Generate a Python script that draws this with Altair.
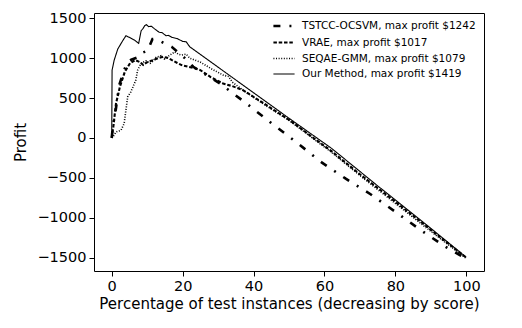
import altair as alt
import pandas as pd

series_names = [
    "TSTCC-OCSVM, max profit $1242",
    "VRAE, max profit $1017",
    "SEQAE-GMM, max profit $1079",
    "Our Method, max profit $1419",
]

tstcc_x = [0, 0.3, 1.2, 2.1, 3.5, 4.5, 5.5, 7.3, 8.2, 10.1, 11.5, 12.3, 13.0, 16.9, 20.2, 23.0, 30.5, 38, 44.6, 52, 59, 66, 73, 80, 87, 94, 100]
tstcc_y = [0, 138, 372, 662, 850, 955, 980, 1010, 1060, 1093, 1240, 1242, 1227, 1143, 1018, 892, 683, 432, 201, -50, -300, -510, -705, -925, -1150, -1360, -1515]

vrae_x = [0, 0.45, 1.2, 2.3, 3.7, 5.2, 6.6, 8.0, 8.9, 10.0, 11.7, 13.0, 14.5, 16.0, 17.0, 18.5, 19.7, 21.6, 23.0, 25.0, 28.0, 31.4, 34.0, 37.0, 43.0, 50.2, 56.0, 62.0, 70.0, 80.0, 90.0, 100.0]
vrae_y = [0, 140, 430, 640, 830, 940, 975, 950, 915, 950, 975, 1000, 1017, 1000, 975, 940, 913, 892, 880, 850, 760, 683, 650, 600, 430, 221, 30, -165, -455, -800, -1150, -1500]

seqae_x = [0, 0.65, 1.2, 2.6, 3.5, 4.0, 4.5, 5.4, 6.8, 7.3, 8.3, 9.7, 10.8, 11.5, 12.5, 13.9, 14.8, 15.5, 16.4, 17.8, 18.8, 19.7, 21.0, 22.0, 25, 28, 31.4, 33, 34, 37, 43, 50.2, 56, 62, 70, 80, 90, 100]
seqae_y = [0, 34, 75, 97, 180, 348, 515, 578, 725, 850, 935, 967, 935, 960, 1010, 1030, 990, 1010, 1039, 1079, 1050, 1039, 1050, 1000, 950, 870, 788, 770, 700, 600, 420, 215, 20, -180, -470, -820, -1170, -1510]

ours_x = [0, 0.1, 0.7, 1.7, 3.1, 4.0, 5.2, 6.4, 7.6, 8.3, 8.8, 9.3, 9.8, 10.4, 11.2, 12.0, 13.4, 14.2, 15.3, 16.0, 17.0, 18.5, 20.0, 21.0, 22.0, 30, 40, 50, 62, 75, 88, 100]
ours_y = [0, 850, 976, 1114, 1219, 1281, 1255, 1227, 1186, 1344, 1370, 1407, 1419, 1395, 1400, 1370, 1324, 1320, 1281, 1285, 1260, 1245, 1210, 1205, 1143, 887, 567, 247, -130, -600, -1060, -1495]

rows = []
for name, xs, ys in zip(series_names,
                        [tstcc_x, vrae_x, seqae_x, ours_x],
                        [tstcc_y, vrae_y, seqae_y, ours_y]):
    for i, (xv, yv) in enumerate(zip(xs, ys)):
        rows.append({"series": name, "x": xv, "y": yv, "idx": i})
df = pd.DataFrame(rows)

legend = alt.Legend(
    title=None,
    orient="none",
    legendX=183,
    legendY=6,
    symbolType="M-2,0L2,0",
    symbolSize=112,
    symbolStrokeColor="black",
    labelFontSize=10.5,
    labelFont="DejaVu Sans",
    labelColor="black",
    labelOffset=11,
    labelLimit=400,
    rowPadding=4,
    padding=0,
)

chart = alt.Chart(df).mark_line(color="black", strokeCap="butt").encode(
    x=alt.X("x:Q",
            scale=alt.Scale(domain=[-5, 105], nice=False, zero=False),
            axis=alt.Axis(values=[0, 20, 40, 60, 80, 100], format="d",
                          title="Percentage of test instances (decreasing by score)")),
    y=alt.Y("y:Q",
            scale=alt.Scale(domain=[-1667, 1566], nice=False, zero=False),
            axis=alt.Axis(values=[-1500, -1000, -500, 0, 500, 1000, 1500], format="d",
                          title="Profit")),
    strokeDash=alt.StrokeDash("series:N",
                              scale=alt.Scale(domain=series_names,
                                              range=[[7, 9, 2, 9], [3.5, 1.8], [1, 1.6], [1, 0]]),
                              legend=legend),
    strokeWidth=alt.StrokeWidth("series:N",
                                scale=alt.Scale(domain=series_names,
                                                range=[2.6, 1.1, 1.1, 1.3]),
                                legend=legend),
    detail="series:N",
    order="idx:Q",
).properties(
    width=390,
    height=258,
    autosize=alt.AutoSizeParams(type="none"),
    padding={"left": 94, "top": 13, "right": 38, "bottom": 57},
).configure_view(
    stroke="black", strokeWidth=1
).configure_axis(
    grid=False,
    domain=False,
    tickColor="black",
    tickSize=5,
    labelFont="DejaVu Sans",
    titleFont="DejaVu Sans",
    labelFontSize=14.5,
    titleFontSize=15,
    labelColor="black",
    titleColor="black",
    titleFontWeight="normal",
    labelPadding=3,
).configure_axisY(
    titlePadding=8
).configure_axisX(
    titlePadding=4
)

chart.save("out.html", embed_options={"renderer": "svg", "actions": False})
